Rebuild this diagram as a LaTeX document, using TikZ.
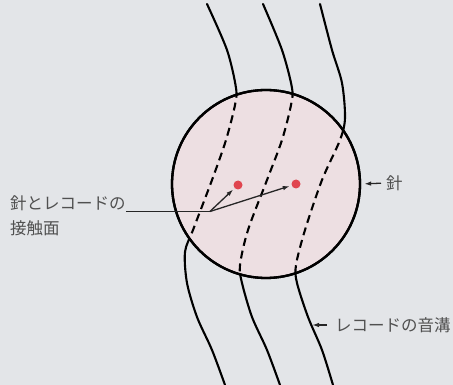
\documentclass[tikz,border=0pt]{standalone}
\usepackage{fontspec}
\newfontfamily\jpfont{Noto Sans CJK JP}
\usetikzlibrary{arrows.meta}
\definecolor{paper}{HTML}{E3E5E8}
\definecolor{tippink}{HTML}{EDDFE2}
\definecolor{spotred}{HTML}{E0454F}
\definecolor{inkgray}{HTML}{505050}
\tikzset{groove/.style={line width=2.1pt, line cap=round}, hidden/.style={line width=2.1pt, dash pattern=on 8pt off 5pt}, spot/.style={circle, fill=spotred, minimum size=9pt, inner sep=0pt, outer sep=2pt}, lab/.style={font=\jpfont\fontsize{16.5}{20}\selectfont, text=inkgray, inner sep=0pt}, pointer/.style={-{Latex[length=7pt,width=4.5pt]}, line width=1.3pt, color=black!85}}
\newcommand{\grooveone}{plot[smooth] coordinates {(207,4) (227,50) (236,88) (235,105) (226,140) (212,180) (193,230) (185,252) (187,283) (197,317) (212,350) (225,385)}}
\newcommand{\grooveTwo}{plot[smooth] coordinates {(263,4) (282,50) (292,88) (291,105) (282,140) (267,180) (248,230) (240,265) (242,283) (252,317) (267,350) (280,385)}}
\newcommand{\grooveThree}{plot[smooth] coordinates {(320,4) (332,50) (342,83) (345,118) (340,140) (322,180) (305,230) (296,265) (297,283) (308,317) (322,350) (333,385)}}

\begin{document}
\begin{tikzpicture}[x=1pt,y=-1pt]
\fill[paper] (0,0) rectangle (453,385); \useasboundingbox (0,0) rectangle (453,385);
\draw[groove] \grooveone; \draw[groove] \grooveTwo; \draw[groove] \grooveThree;
\node[circle, draw, line width=2.3pt, fill=tippink, minimum size=188pt, inner sep=0pt] (needle) at (266,184) {};
\begin{scope}
\clip (needle.center) circle[radius=93];
\draw[hidden] \grooveone; \draw[hidden] \grooveTwo; \draw[hidden] \grooveThree;
\end{scope}
\draw[line width=2.3pt] (needle.center) circle[radius=94];
\node[spot] (spotA) at (238,185) {}; \node[spot] (spotB) at (296,184) {};
% contact label and leader
\node[lab, anchor=base west] (contactA) at (10,210) {針とレコードの};
\node[lab, anchor=base west] (contactB) at (10,235) {接触面};
\path (contactA.south east) ++(84,0) coordinate (fork);
\draw[line width=1.3pt, color=black!85] (contactA.south east) -- (fork);
\draw[pointer] (fork) -- (spotA); \draw[pointer] (fork) -- (spotB);
% right hand labels
\node[lab, anchor=west] (needlelab) at (386,183) {針};
\draw[pointer, shorten <=5pt, shorten >=3pt] (needlelab.west) -- (needle.east);
\node[lab, anchor=west] (groovelab) at (335,325) {レコードの音溝};
\coordinate (grooveC) at (312,325);
\draw[pointer, shorten <=8pt] (groovelab.west) -- (grooveC);
\end{tikzpicture}
\end{document}
